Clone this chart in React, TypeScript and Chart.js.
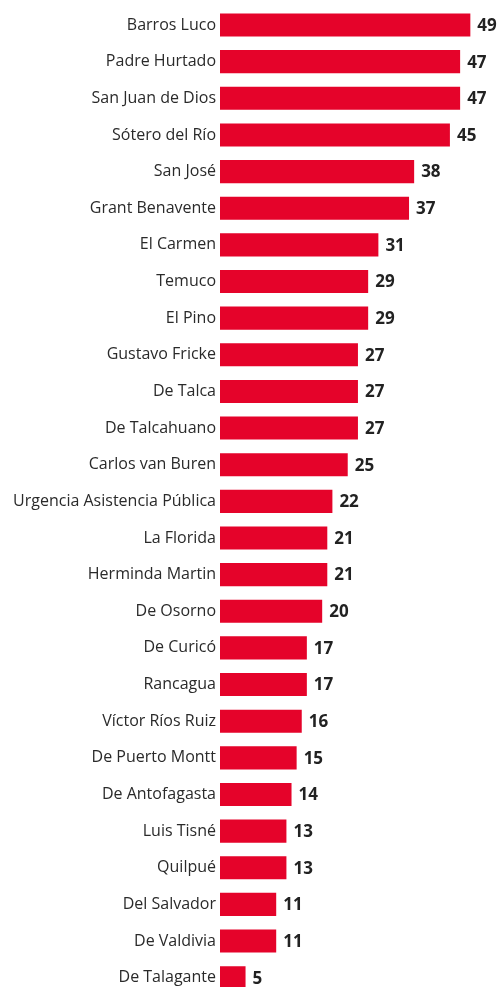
import React, { useEffect, useRef } from "react";
import { Chart, registerables } from "chart.js";

Chart.register(...registerables);

const categories = [
  "Barros Luco",
  "Padre Hurtado",
  "San Juan de Dios",
  "Sótero del Río",
  "San José",
  "Grant Benavente",
  "El Carmen",
  "Temuco",
  "El Pino",
  "Gustavo Fricke",
  "De Talca",
  "De Talcahuano",
  "Carlos van Buren",
  "Urgencia Asistencia Pública",
  "La Florida",
  "Herminda Martin",
  "De Osorno",
  "De Curicó",
  "Rancagua",
  "Víctor Ríos Ruiz",
  "De Puerto Montt",
  "De Antofagasta",
  "Luis Tisné",
  "Quilpué",
  "Del Salvador",
  "De Valdivia",
  "De Talagante",
];

const values = [49, 47, 47, 45, 38, 37, 31, 29, 29, 27, 27, 27, 25, 22, 21, 21, 20, 17, 17, 16, 15, 14, 13, 13, 11, 11, 5];

const valueLabels = {
  id: "valueLabels",
  afterDatasetsDraw(chart: any) {
    const ctx = chart.ctx;
    const meta = chart.getDatasetMeta(0);
    ctx.save();
    ctx.font = "bold 17px 'Open Sans', Roboto, sans-serif";
    ctx.fillStyle = "#222222";
    ctx.textAlign = "left";
    ctx.textBaseline = "middle";
    meta.data.forEach((bar: any, i: number) => {
      ctx.fillText(String(values[i]), bar.x + 7, bar.y + 1);
    });
    ctx.restore();
  },
};

export default function App() {
  const ref = useRef<HTMLCanvasElement>(null);
  useEffect(() => {
    if (!ref.current) return;
    const chart = new Chart(ref.current, {
      type: "bar",
      data: {
        labels: categories,
        datasets: [
          {
            data: values,
            backgroundColor: "#e5032a",
            borderWidth: 0,
            barPercentage: 0.63,
            categoryPercentage: 1,
          },
        ],
      },
      options: {
        indexAxis: "y",
        animation: false,
        responsive: false,
        maintainAspectRatio: false,
        layout: { padding: { top: 6.7, bottom: 4, left: 0, right: 2 } },
        plugins: { legend: { display: false }, tooltip: { enabled: false } },
        scales: {
          x: { display: false, min: 0, max: 55 },
          y: {
            grid: { display: false, drawTicks: false },
            border: { display: false },
            ticks: {
              autoSkip: false,
              padding: 4,
              color: "#2a2a2a",
              font: { family: "'Open Sans', Roboto, sans-serif", size: 16 },
            },
            afterFit(scale: any) {
              scale.width = 220;
              scale.paddingTop = 0;
              scale.paddingBottom = 0;
            },
          },
        },
      },
      plugins: [valueLabels],
    });
    return () => chart.destroy();
  }, []);
  return (
    <div style={{ position: "absolute", left: 0, top: 0, width: 503, height: 1000, background: "#fff" }}>
      <canvas ref={ref} width={503} height={1000} style={{ width: 503, height: 1000 }} />
    </div>
  );
}
